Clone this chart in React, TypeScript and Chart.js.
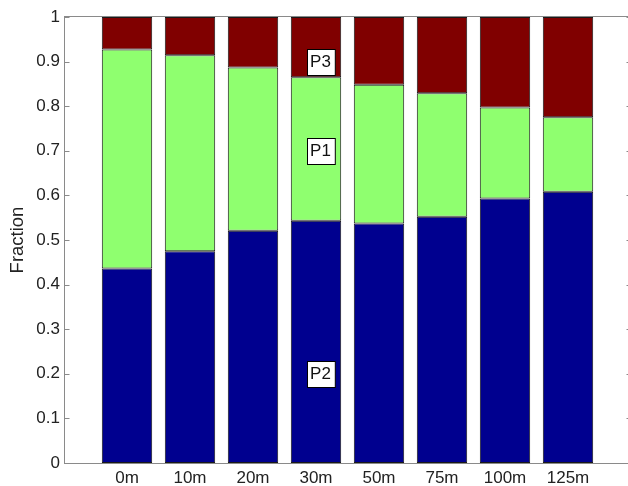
import React, { useEffect, useRef } from "react";
import { Chart, registerables } from "chart.js";

Chart.register(...registerables);

const categories = ["0m", "10m", "20m", "30m", "50m", "75m", "100m", "125m"];
const P2 = [0.436, 0.475, 0.521, 0.543, 0.537, 0.552, 0.593, 0.608];
const P1 = [0.491, 0.439, 0.366, 0.322, 0.311, 0.277, 0.204, 0.167];
const P3 = [0.073, 0.086, 0.113, 0.135, 0.152, 0.171, 0.203, 0.225];
const yTicks = [0, 0.1, 0.2, 0.3, 0.4, 0.5, 0.6, 0.7, 0.8, 0.9, 1];
const annotationLabels = ["P3", "P1", "P2"];
const annotationY = [0.9, 0.7, 0.2];
const annotationCategory = "30m";

const FONT = "'Liberation Sans', Arial, sans-serif";
const AXIS_GRAY = "#8a8a8a";

export default function App() {
  const ref = useRef<HTMLCanvasElement | null>(null);

  useEffect(() => {
    if (!ref.current) return;
    const labels = ["", ...categories, ""];
    const pad = (arr: number[]) => [null, ...arr, null];

    const boxPlugin = {
      id: "matlabBox",
      afterDatasetsDraw(chart: any) {
        const { ctx, chartArea } = chart;
        const ys = chart.scales.y;
        const xs = chart.scales.x;
        const l = Math.round(chartArea.left) + 0.5;
        const r = Math.round(chartArea.right) + 0.5;
        const t = Math.round(chartArea.top) - 0.5;
        const b = Math.round(chartArea.bottom) + 0.5;
        ctx.save();
        ctx.strokeStyle = AXIS_GRAY;
        ctx.lineWidth = 1;
        ctx.strokeRect(l, t, r - l, b - t);
        ctx.beginPath();
        yTicks.forEach((v) => {
          const y = Math.round(ys.getPixelForValue(v)) + 0.5;
          ctx.moveTo(l, y);
          ctx.lineTo(l + 5, y);
          ctx.moveTo(r, y);
          ctx.lineTo(r - 5, y);
        });
        ctx.stroke();

        // annotations
        const idx = labels.indexOf(annotationCategory);
        const cx = xs.getPixelForValue(idx) + 4.5;
        ctx.font = `17px ${FONT}`;
        ctx.textAlign = "center";
        ctx.textBaseline = "middle";
        annotationLabels.forEach((txt, i) => {
          const cy = ys.getPixelForValue(annotationY[i]);
          const w = ctx.measureText(txt).width + 7;
          const h = 26;
          const bx = Math.round(cx - w / 2) + 0.5;
          const by = Math.round(cy - h / 2) + 0.5;
          ctx.fillStyle = "#ffffff";
          ctx.fillRect(bx, by, w, h);
          ctx.strokeStyle = "#000000";
          ctx.strokeRect(bx, by, w, h);
          ctx.fillStyle = "#111111";
          ctx.fillText(txt, cx, cy + 1);
        });
        ctx.restore();
      },
    };

    const chart = new Chart(ref.current, {
      type: "bar",
      data: {
        labels,
        datasets: [
          { label: "P2", data: pad(P2), backgroundColor: "#00008F", borderColor: "#1a1a1a", borderWidth: 1, borderSkipped: false },
          { label: "P1", data: pad(P1), backgroundColor: "#8FFF6F", borderColor: "#1a1a1a", borderWidth: 1, borderSkipped: false },
          { label: "P3", data: pad(P3), backgroundColor: "#800000", borderColor: "#1a1a1a", borderWidth: 1, borderSkipped: false },
        ],
      },
      options: {
        animation: false,
        responsive: false,
        devicePixelRatio: 1,
        layout: { padding: { left: 0, right: 9, top: 17, bottom: 0 } },
        plugins: { legend: { display: false }, tooltip: { enabled: false } },
        datasets: { bar: { categoryPercentage: 1, barPercentage: 0.8 } },
        scales: {
          x: {
            stacked: true,
            offset: false,
            grid: { display: false, drawTicks: false },
            border: { display: false },
            ticks: {
              autoSkip: false,
              maxRotation: 0,
              padding: 5,
              color: "#222",
              font: { family: FONT, size: 17 },
            },
            afterFit: (s: any) => {
              s.height = 23;
            },
          },
          y: {
            stacked: true,
            min: 0,
            max: 1,
            grid: { display: false, drawTicks: false },
            border: { display: false },
            ticks: {
              stepSize: 0.1,
              padding: 4,
              color: "#222",
              font: { family: FONT, size: 17 },
              callback: (v: any) => String(+Number(v).toFixed(1)),
            },
            title: {
              display: true,
              text: "Fraction",
              color: "#222",
              font: { family: FONT, size: 18.5 },
              padding: { top: 7, bottom: 0 },
            },
            afterFit: (s: any) => {
              s.width = 64;
            },
          },
        },
      },
      plugins: [boxPlugin],
    });
    return () => chart.destroy();
  }, []);

  return (
    <div
      style={{
        position: "fixed",
        left: 0,
        top: 0,
        width: 628,
        height: 486,
        overflow: "hidden",
        background: "#fff",
      }}
    >
      <canvas ref={ref} width={640} height={486} style={{ width: 640, height: 486, display: "block" }} />
    </div>
  );
}
